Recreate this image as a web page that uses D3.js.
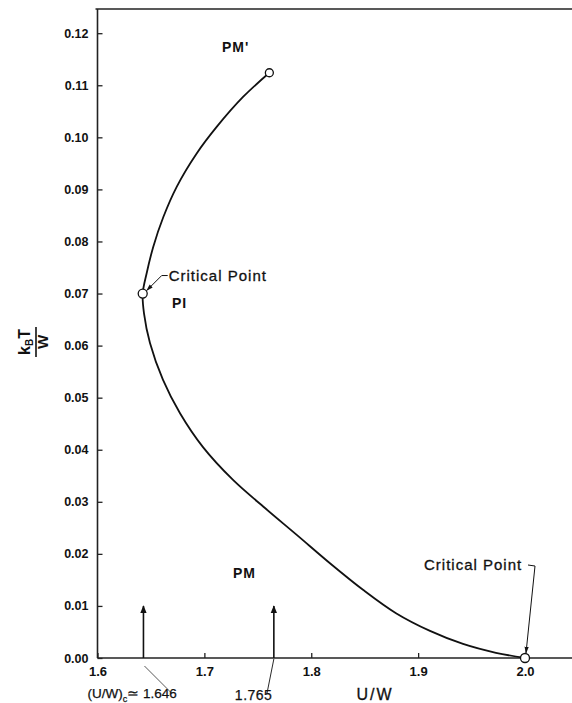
<!DOCTYPE html>
<html>
<head>
<meta charset="utf-8">
<script src="https://cdn.jsdelivr.net/npm/d3@7"></script>
<style>
  body { margin: 0; background: #fff; }
  svg { display: block; }
  text { font-family: "Liberation Sans", Arial, sans-serif; fill: #111; }
</style>
</head>
<body>
<div id="chart"></div>
<script>
// curve: U/W against kB*T/W
var curveU = [1.7608, 1.7364, 1.7115, 1.6928, 1.6741, 1.6616, 1.6522, 1.6460, 1.6423,
              1.6435, 1.6491, 1.6613, 1.6772, 1.6987, 1.7268, 1.7567, 1.7867, 1.8175,
              1.8484, 1.8793, 1.9111, 1.9420, 1.9728, 2.0000];
var curveT = [0.1124, 0.1078, 0.1020, 0.0969, 0.0905, 0.0847, 0.0790, 0.0739, 0.0700,
              0.0662, 0.0605, 0.0534, 0.0470, 0.0405, 0.0342, 0.0288, 0.0236, 0.0182,
              0.0131, 0.0086, 0.0052, 0.0027, 0.0010, 0.0000];

// open circles: end of PM' line, upper critical point, lower critical point
var dotU = [1.7608, 1.6423, 2.000];
var dotT = [0.1124, 0.0700, 0.0000];

// vertical arrows on the axis
var arrowU = [1.643, 1.765];
var arrowTop = 0.01;

var xTicks = [1.6, 1.7, 1.8, 1.9, 2.0];
var xTickLabels = ["1.6", "1.7", "1.8", "1.9", "2.0"];
var yTicks = [0, 0.01, 0.02, 0.03, 0.04, 0.05, 0.06, 0.07, 0.08, 0.09, 0.10, 0.11, 0.12];

var W = 572, H = 703;
var left = 97.5, bottom = 658;

var svg = d3.select("#chart").append("svg")
    .attr("width", W)
    .attr("height", H);

var x = d3.scaleLinear().domain([1.6, 2.0]).range([left, 525]);
var y = d3.scaleLinear().domain([0, 0.12]).range([bottom, 33.2]);

// arrow heads
var defs = svg.append("defs");
defs.append("marker")
    .attr("id", "head")
    .attr("viewBox", "0 0 10 10")
    .attr("refX", 9).attr("refY", 5)
    .attr("markerWidth", 8).attr("markerHeight", 8)
    .attr("markerUnits", "userSpaceOnUse")
    .attr("orient", "auto")
  .append("path")
    .attr("d", "M0,1 L10,5 L0,9 Z")
    .attr("fill", "#111");
defs.append("marker")
    .attr("id", "small")
    .attr("viewBox", "0 0 10 10")
    .attr("refX", 9).attr("refY", 5)
    .attr("markerWidth", 7).attr("markerHeight", 7)
    .attr("markerUnits", "userSpaceOnUse")
    .attr("orient", "auto")
  .append("path")
    .attr("d", "M0,2 L10,5 L0,8 Z")
    .attr("fill", "#111");

// frame: top border and the two axis lines
svg.append("line")
    .attr("x1", left - 2).attr("x2", W)
    .attr("y1", 9).attr("y2", 9)
    .attr("stroke", "#222").attr("stroke-width", 1.6);
svg.append("line")
    .attr("x1", left).attr("x2", left)
    .attr("y1", 9).attr("y2", bottom)
    .attr("stroke", "#222").attr("stroke-width", 1.6);
svg.append("line")
    .attr("x1", left).attr("x2", W)
    .attr("y1", bottom).attr("y2", bottom)
    .attr("stroke", "#222").attr("stroke-width", 1.6);

// x axis
var xAxis = svg.append("g")
    .attr("transform", "translate(0," + bottom + ")")
    .call(d3.axisBottom(x)
      .tickValues(xTicks)
      .tickFormat(function(d, i) { return xTickLabels[i]; })
      .tickSizeInner(-5).tickSizeOuter(0).tickPadding(9));
xAxis.select(".domain").remove();
xAxis.selectAll("line").attr("stroke", "#222").attr("stroke-width", 1.3);
xAxis.selectAll("text")
    .style("font-family", "'Liberation Sans', Arial, sans-serif")
    .style("font-size", "13px").style("font-weight", "bold").attr("fill", "#111");

// y axis
var yAxis = svg.append("g")
    .attr("transform", "translate(" + left + ",0)")
    .call(d3.axisLeft(y)
      .tickValues(yTicks)
      .tickFormat(d3.format(".2f"))
      .tickSizeInner(-5).tickSizeOuter(0).tickPadding(9));
yAxis.select(".domain").remove();
yAxis.selectAll("line").attr("stroke", "#222").attr("stroke-width", 1.3);
yAxis.selectAll("text")
    .style("font-family", "'Liberation Sans', Arial, sans-serif")
    .style("font-size", "12.5px").style("font-weight", "bold").attr("fill", "#111");

// the phase boundary
var pts = curveU.map(function(u, i) { return [u, curveT[i]]; });
var line = d3.line()
    .x(function(d) { return x(d[0]); })
    .y(function(d) { return y(d[1]); })
    .curve(d3.curveCatmullRom.alpha(0.5));
svg.append("path")
    .datum(pts)
    .attr("d", line)
    .attr("fill", "none")
    .attr("stroke", "#111")
    .attr("stroke-width", 1.8);

// arrows at (U/W)c and 1.765
svg.selectAll(".arr")
  .data(arrowU)
  .enter().append("line")
    .attr("class", "arr")
    .attr("x1", function(d) { return x(d); })
    .attr("x2", function(d) { return x(d); })
    .attr("y1", y(0))
    .attr("y2", y(arrowTop))
    .attr("stroke", "#111")
    .attr("stroke-width", 1.6)
    .attr("marker-end", "url(#head)");

// open circles
svg.selectAll(".dot")
  .data(dotU)
  .enter().append("circle")
    .attr("class", "dot")
    .attr("cx", function(d) { return x(d); })
    .attr("cy", function(d, i) { return y(dotT[i]); })
    .attr("r", function(d, i) { return i === 0 ? 4 : 4.5; })
    .attr("fill", "#fff")
    .attr("stroke", "#111")
    .attr("stroke-width", 1.3);

// region labels
function label(txt, px, py, size) {
  return svg.append("text")
    .attr("x", px).attr("y", py)
    .style("font-size", size + "px")
    .style("font-weight", "bold")
    .style("letter-spacing", "1px")
    .text(txt);
}
label("PM'", 222, 52, 14);
label("PI", 172, 308, 14);
label("PM", 233, 578, 14);

function note(px, py, txt) {
  return svg.append("text")
    .attr("x", px).attr("y", py)
    .style("font-size", "15px")
    .style("letter-spacing", "1px")
    .attr("stroke", "#111").attr("stroke-width", 0.3)
    .text(txt);
}

// upper critical point note
var cx1 = x(dotU[1]), cy1 = y(dotT[1]);
note(cx1 + 26, cy1 - 13, "Critical Point");
svg.append("path")
    .attr("d", "M" + (cx1 + 25) + "," + (cy1 - 18) + " L" + (cx1 + 19) + "," + (cy1 - 18) +
               " L" + (cx1 + 4) + "," + (cy1 - 3))
    .attr("fill", "none").attr("stroke", "#111").attr("stroke-width", 1)
    .attr("marker-end", "url(#small)");

// lower critical point note
var cx2 = x(dotU[2]), cy2 = y(dotT[2]);
note(cx2 - 101, cy2 - 88, "Critical Point");
svg.append("path")
    .attr("d", "M" + (cx2 + 3) + "," + (cy2 - 93) + " L" + (cx2 + 10) + "," + (cy2 - 92) +
               " L" + (cx2 + 1) + "," + (cy2 - 5))
    .attr("fill", "none").attr("stroke", "#111").attr("stroke-width", 1)
    .attr("marker-end", "url(#small)");

// labels under the arrows
var a1 = x(arrowU[0]), a2 = x(arrowU[1]);
var t1 = svg.append("text")
    .attr("x", a1 - 56).attr("y", 698)
    .style("font-size", "13.5px")
    .attr("stroke", "#111").attr("stroke-width", 0.25);
t1.append("tspan").text("(U/W)");
t1.append("tspan").attr("dy", 4).style("font-size", "9px").text("c");
t1.append("tspan").attr("dy", -4).text("\u2243 1.646");
svg.append("line")
    .attr("x1", a1 + 1).attr("y1", bottom + 8)
    .attr("x2", a1 + 28).attr("y2", 693)
    .attr("stroke", "#111").attr("stroke-width", 0.7);

svg.append("text")
    .attr("x", a2 - 39).attr("y", 700)
    .style("font-size", "14px")
    .style("letter-spacing", "0.5px")
    .attr("stroke", "#111").attr("stroke-width", 0.25)
    .text("1.765");
svg.append("line")
    .attr("x1", a2 - 7).attr("y1", 694)
    .attr("x2", a2).attr("y2", bottom + 1)
    .attr("stroke", "#111").attr("stroke-width", 0.9);

// axis titles
svg.append("text")
    .attr("x", 375).attr("y", 700)
    .attr("text-anchor", "middle")
    .style("font-size", "16px")
    .style("letter-spacing", "2px")
    .attr("stroke", "#111").attr("stroke-width", 0.3)
    .text("U/W");

var yl = svg.append("g")
    .attr("transform", "translate(36,342) rotate(-90)");
var num = yl.append("text")
    .attr("x", 0).attr("y", -6)
    .attr("text-anchor", "middle")
    .style("font-size", "16px").style("font-weight", "bold");
num.append("tspan").text("k");
num.append("tspan").attr("dy", 3).style("font-size", "10px").text("B");
num.append("tspan").attr("dy", -3).text("T");
yl.append("line")
    .attr("x1", -15).attr("x2", 15)
    .attr("y1", 0).attr("y2", 0)
    .attr("stroke", "#111").attr("stroke-width", 1.6);
yl.append("text")
    .attr("x", 0).attr("y", 12)
    .attr("text-anchor", "middle")
    .style("font-size", "15px").style("font-weight", "bold")
    .text("W");
</script>
</body>
</html>
